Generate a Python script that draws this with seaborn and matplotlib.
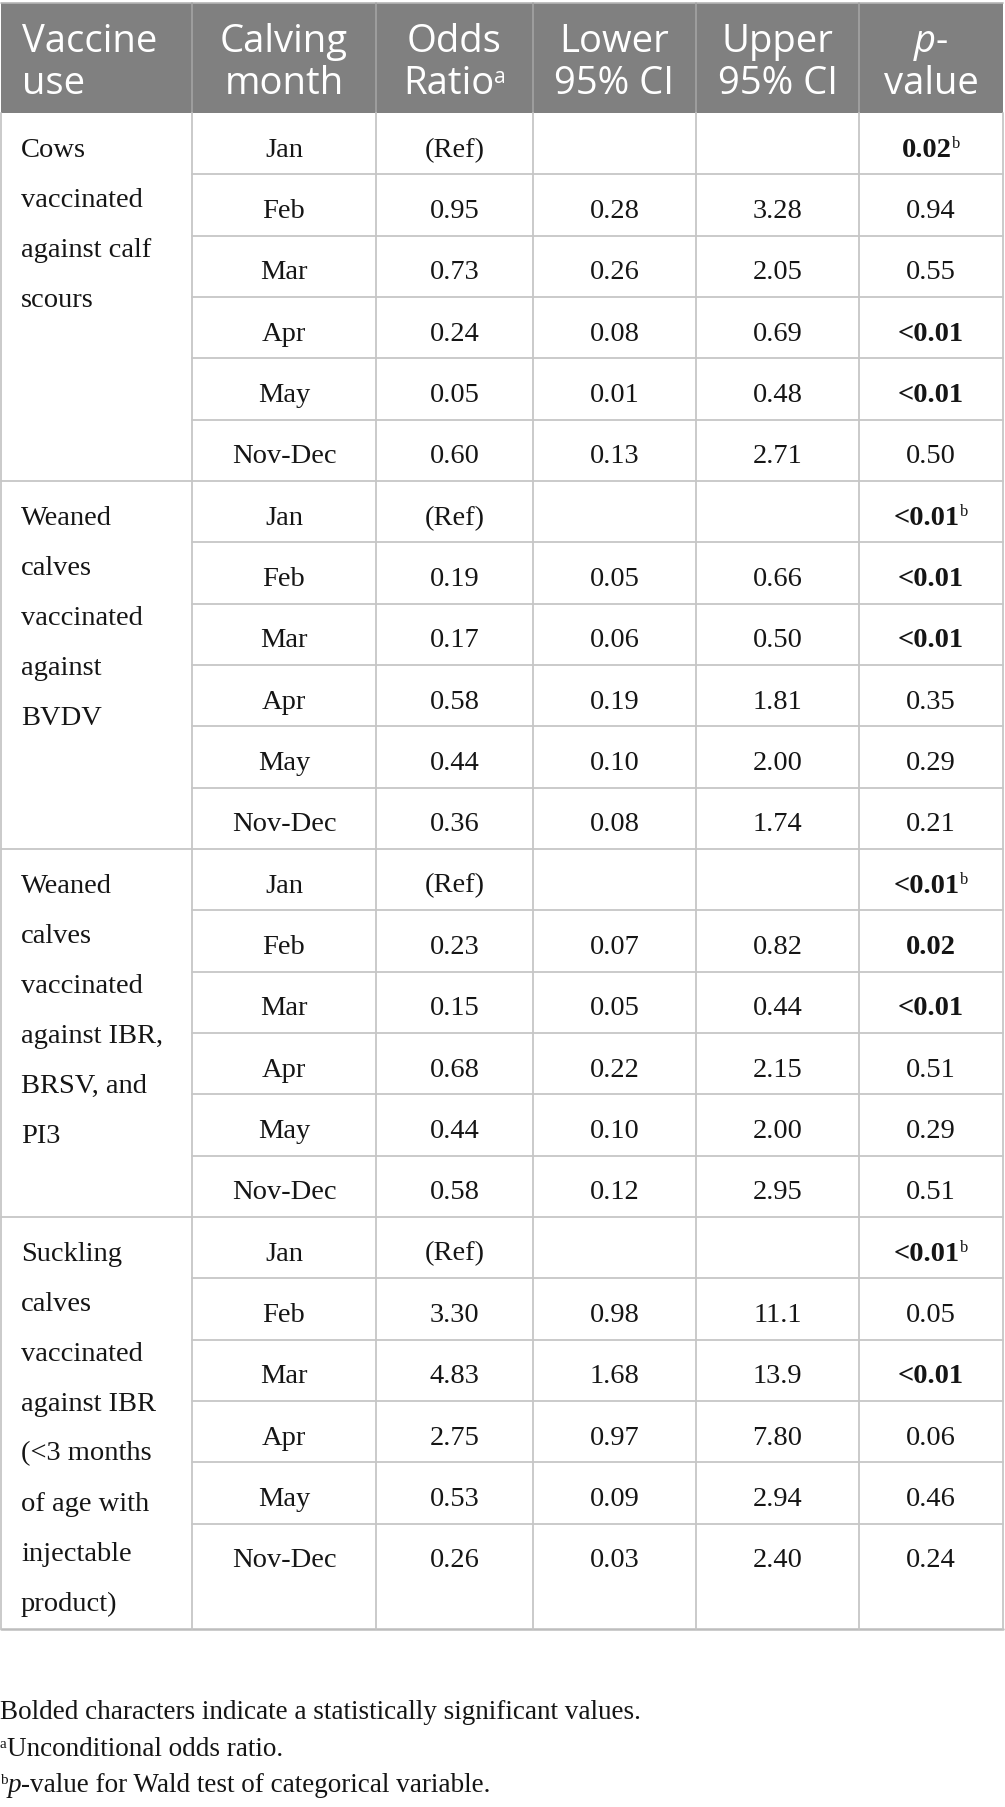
import matplotlib
matplotlib.use("Agg")
import matplotlib.pyplot as plt
import seaborn as sns

# table content
headers = [["Vaccine", "use"], ["Calving", "month"], ["Odds", "Ratio"],
           ["Lower", "95% CI"], ["Upper", "95% CI"], ["p-", "value"]]
vaccine_use = [
    ["Cows", "vaccinated", "against calf", "scours"],
    ["Weaned", "calves", "vaccinated", "against", "BVDV"],
    ["Weaned", "calves", "vaccinated", "against IBR,", "BRSV, and", "PI3"],
    ["Suckling", "calves", "vaccinated", "against IBR", "(<3 months",
     "of age with", "injectable", "product)"],
]
months = ["Jan", "Feb", "Mar", "Apr", "May", "Nov-Dec"]
odds_ratio = [["(Ref)", "0.95", "0.73", "0.24", "0.05", "0.60"],
              ["(Ref)", "0.19", "0.17", "0.58", "0.44", "0.36"],
              ["(Ref)", "0.23", "0.15", "0.68", "0.44", "0.58"],
              ["(Ref)", "3.30", "4.83", "2.75", "0.53", "0.26"]]
lower_ci = [["", "0.28", "0.26", "0.08", "0.01", "0.13"],
            ["", "0.05", "0.06", "0.19", "0.10", "0.08"],
            ["", "0.07", "0.05", "0.22", "0.10", "0.12"],
            ["", "0.98", "1.68", "0.97", "0.09", "0.03"]]
upper_ci = [["", "3.28", "2.05", "0.69", "0.48", "2.71"],
            ["", "0.66", "0.50", "1.81", "2.00", "1.74"],
            ["", "0.82", "0.44", "2.15", "2.00", "2.95"],
            ["", "11.1", "13.9", "7.80", "2.94", "2.40"]]
p_values = [["0.02", "0.94", "0.55", "<0.01", "<0.01", "0.50"],
            ["<0.01", "<0.01", "<0.01", "0.35", "0.29", "0.21"],
            ["<0.01", "0.02", "<0.01", "0.51", "0.29", "0.51"],
            ["<0.01", "0.05", "<0.01", "0.06", "0.46", "0.24"]]
footnotes = ["Bolded characters indicate a statistically significant values.",
             "Unconditional odds ratio.",
             "-value for Wald test of categorical variable."]

sns.set_theme(style="white")

W, H = 1005, 1808
fig = plt.figure(figsize=(W / 100, H / 100), dpi=100)
ax = fig.add_axes([0, 0, 1, 1])
ax.set_xlim(0, W)
ax.set_ylim(H, 0)
ax.axis("off")
renderer = fig.canvas.get_renderer()

# layout (pixels)
col_x = [1, 192, 376, 533, 696, 859, 1003]
head_top, head_bot = 4, 114
row_h = 61.33
table_bot = 1630
grid_c = "#c6c6c6"
txt_c = "#151515"
SERIF = "Liberation Serif"
SANS = "Open Sans"
body_fs = 20.5
head_fs = 27.5


def runs(x, y, parts, ha="center"):
    # parts: (text, props, raise_px) laid out left to right on one baseline
    items = []
    total = 0
    for s, props, rise in parts:
        t = ax.text(0, y - rise, s, va="baseline", ha="left", **props)
        w = t.get_window_extent(renderer=renderer).width
        items.append((t, w))
        total += w
    x0 = x - total / 2 if ha == "center" else x
    for t, w in items:
        t.set_x(x0)
        x0 += w


# header band
ax.fill_between([col_x[0], col_x[-1]], head_top, head_bot, color="#808080", lw=0)
ax.plot([col_x[0], col_x[-1]], [head_top, head_top], color="#b5b5b5", lw=1.2)
for cx in col_x[1:-1]:
    ax.plot([cx, cx], [head_top, head_bot], color="#a3a3a3", lw=1.2)

hp = dict(family=SANS, fontsize=head_fs, color="white")
hp_sup = dict(family=SANS, fontsize=head_fs * 0.55, color="white")
hp_it = dict(family=SANS, fontsize=head_fs, color="white", style="italic")
for i, (l1, l2) in enumerate(headers):
    cx = (col_x[i] + col_x[i + 1]) / 2
    if i == 0:
        runs(22, 52, [(l1, hp, 0)], ha="left")
        runs(22, 94, [(l2, hp, 0)], ha="left")
        continue
    if i == 5:
        runs(cx, 52, [("p", hp_it, 0), ("-", hp, 0)])
    else:
        runs(cx, 52, [(l1, hp, 0)])
    if i == 2:
        runs(cx, 94, [(l2, hp, 0), ("a", hp_sup, 11)])
    else:
        runs(cx, 94, [(l2, hp, 0)])

# body
bp = dict(family=SERIF, fontsize=body_fs, color=txt_c)
bb = dict(family=SERIF, fontsize=body_fs, color=txt_c, weight="bold")
bsup = dict(family=SERIF, fontsize=body_fs * 0.58, color=txt_c)
n_rows = len(months)
for b in range(len(vaccine_use)):
    top = head_bot + b * n_rows * row_h
    for j, lab in enumerate(vaccine_use[b]):
        runs(21, top + row_h / 2 + 12 + j * 50, [(lab, bp, 0)], ha="left")
    for r in range(n_rows):
        y0 = top + r * row_h
        yb = y0 + row_h / 2 + 12
        cells = [months[r], odds_ratio[b][r], lower_ci[b][r], upper_ci[b][r]]
        for c, s in enumerate(cells):
            if s:
                runs((col_x[c + 1] + col_x[c + 2]) / 2, yb, [(s, bp, 0)])
        pv = p_values[b][r]
        sig = pv.startswith("<") or float(pv) < 0.05
        parts = [(pv, bb if sig else bp, 0)]
        if r == 0:
            parts.append(("b", bsup, 9))
        runs((col_x[5] + col_x[6]) / 2, yb, parts)
        if r > 0:
            ax.plot([col_x[1], col_x[-1]], [y0, y0], color=grid_c, lw=1.3)
    if b > 0:
        ax.plot([col_x[0], col_x[-1]], [top, top], color=grid_c, lw=1.3)

# outer frame and column lines
ax.plot([col_x[0], col_x[-1]], [table_bot, table_bot], color="#bdbdbd", lw=1.8)
for cx in col_x:
    ax.plot([cx, cx], [head_bot, table_bot], color=grid_c, lw=1.3)

# footnotes
fp = dict(family=SERIF, fontsize=19.5, color=txt_c)
fsup = dict(family=SERIF, fontsize=11, color=txt_c)
fit = dict(family=SERIF, fontsize=19.5, color=txt_c, style="italic")
runs(0, 1719, [(footnotes[0], fp, 0)], ha="left")
runs(0, 1756, [("a", fsup, 8), (footnotes[1], fp, 0)], ha="left")
runs(0, 1792, [("b", fsup, 8), ("p", fit, 0), (footnotes[2], fp, 0)], ha="left")

fig.savefig("out.png", dpi=100)
